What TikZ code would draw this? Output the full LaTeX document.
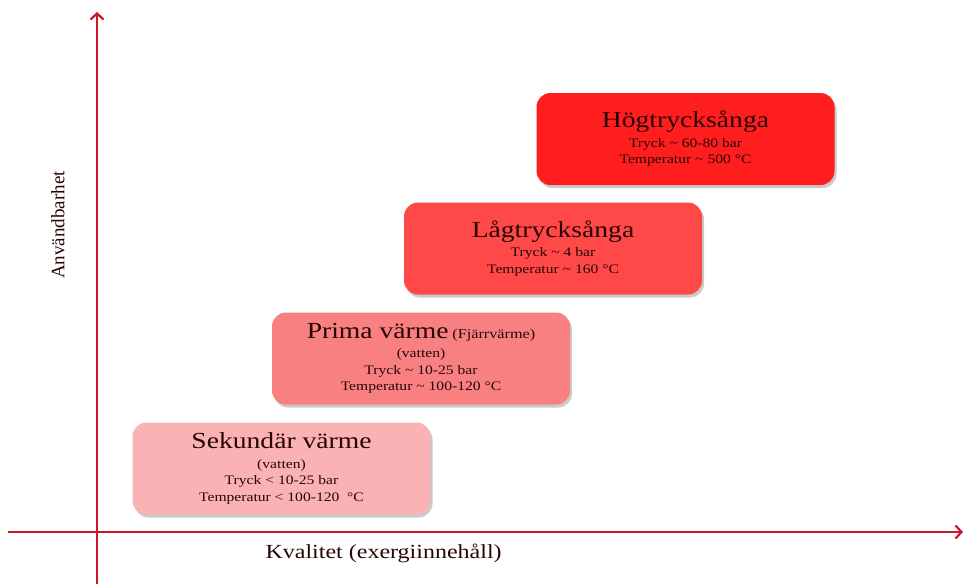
\documentclass[tikz,border=0pt]{standalone}
\usepackage{fontspec}
\setmainfont{Liberation Serif}
\newfontfamily\wideserif[FakeStretch=1.2]{Liberation Serif}
\usetikzlibrary{arrows.meta,shadows}
\definecolor{axisred}{RGB}{205,22,40}
\definecolor{txt}{RGB}{40,5,5}
\definecolor{cA}{RGB}{255,30,30}
\definecolor{cB}{RGB}{255,72,72}
\definecolor{cC}{RGB}{248,128,128}
\definecolor{cD}{RGB}{251,178,180}
\newcommand{\ttlf}{\wideserif\fontsize{23}{26}\selectfont}
\newcommand{\subf}{\wideserif\fontsize{13}{16.5}\selectfont}
\newcommand{\midf}{\wideserif\fontsize{13.5}{16.5}\selectfont}
\tikzset{
  x=1pt, y=-1pt,
  axis/.style={draw=axisred, line width=2.6pt, -{Straight Barb[length=6pt,width=13pt,line width=2.2pt]}},
  heatbox/.style={rounded corners=14pt, minimum width=298pt, minimum height=92pt,
    align=center, text=txt, font=\subf, inner sep=0pt,
    drop shadow={shadow xshift=2pt, shadow yshift=-3pt, opacity=0.35, fill=black!60}},
}
\begin{document}
\begin{tikzpicture}
\useasboundingbox (0,0) rectangle (964,584);
\coordinate (ytop) at (97,12);
\coordinate (ybot) at (97,584);
\coordinate (xl) at (8,532);
\coordinate (xr) at (963,532);
\draw[axis] (ybot) -- (ytop);
\draw[axis] (xl) -- (xr);
\node[rotate=90, text=txt, font=\fontsize{19}{20}\selectfont] (ylab) at (58,225) {Användbarhet};
\node[text=txt, font=\wideserif\fontsize{20}{22}\selectfont, anchor=west] (xlab) at (262,553) {Kvalitet (exergiinnehåll)};

\node[heatbox, fill=cA] (hog) at (685.5,139) {{\ttlf Högtrycksånga}\\[3pt]
  Tryck \textasciitilde\ 60-80 bar\\Temperatur \textasciitilde\ 500 °C};
\node[heatbox, fill=cB] (lag) at (553,248.5) {{\ttlf Lågtrycksånga}\\[3pt]
  Tryck \textasciitilde\ 4 bar\\Temperatur \textasciitilde\ 160 °C};
\node[heatbox, fill=cC] (prima) at (421,358.5) {{\ttlf Prima värme} {\midf (Fjärrvärme)}\\[3pt]
  (vatten)\\Tryck \textasciitilde\ 10-25 bar\\Temperatur \textasciitilde\ 100-120 °C};
\node[heatbox, fill=cD] (sek) at (281.5,468.5) {{\ttlf Sekundär värme}\\[3pt]
  (vatten)\\Tryck < 10-25 bar\\Temperatur < 100-120 \ °C};
\end{tikzpicture}
\end{document}
